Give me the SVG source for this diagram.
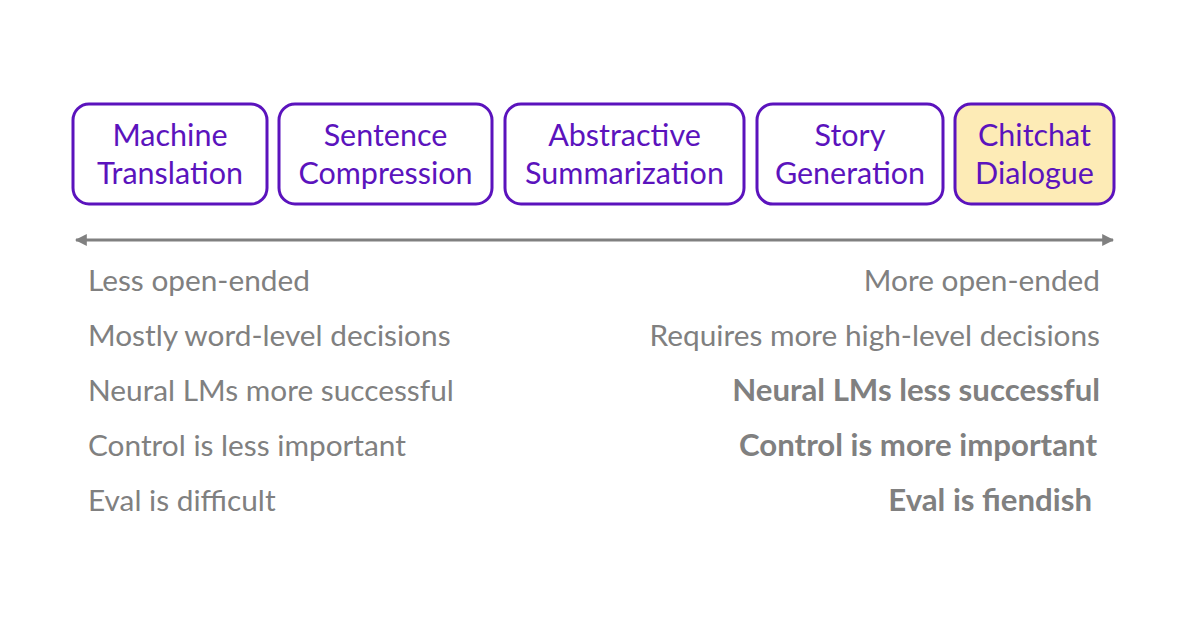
<svg xmlns="http://www.w3.org/2000/svg" width="1200" height="628" viewBox="0 0 1200 628">
<style>
.box{fill:#fff;stroke:#5b13bd;stroke-width:3}
.hl{fill:#fdebb6}
.bt{font-family:Lato,"Source Sans Pro","Noto Sans",sans-serif;font-size:30.5px;fill:#5b13bd;text-anchor:middle}
.t{font-family:Lato,"Source Sans Pro","Noto Sans",sans-serif;font-size:29.8px;fill:#808080}
.r{text-anchor:end}
.b{font-weight:bold;font-size:31.2px}
</style>
<defs>
<marker id="ah" viewBox="0 0 10 10" refX="9" refY="5" markerWidth="4" markerHeight="4" orient="auto-start-reverse" markerUnits="strokeWidth">
<path d="M0,0 L10,5 L0,10 z" fill="#808080"/>
</marker>
</defs>
<rect width="1200" height="628" fill="#fff"/>
<g id="n1"><rect class="box" x="73" y="104" width="194" height="100" rx="16"/><text class="bt" x="170" y="146">Machine</text><text class="bt" x="170" y="184">Translation</text></g>
<g id="n2"><rect class="box" x="279" y="104" width="213" height="100" rx="16"/><text class="bt" x="385.5" y="146">Sentence</text><text class="bt" x="385.5" y="184">Compression</text></g>
<g id="n3"><rect class="box" x="505" y="104" width="239" height="100" rx="16"/><text class="bt" x="624.5" y="146">Abstractive</text><text class="bt" x="624.5" y="184">Summarization</text></g>
<g id="n4"><rect class="box" x="757" y="104" width="186" height="100" rx="16"/><text class="bt" x="850" y="146">Story</text><text class="bt" x="850" y="184">Generation</text></g>
<g id="n5"><rect class="box hl" x="955" y="104" width="159" height="100" rx="16"/><text class="bt" x="1034.5" y="146">Chitchat</text><text class="bt" x="1034.5" y="184">Dialogue</text></g>
<g id="connectors"><line x1="76" y1="240" x2="1113" y2="240" stroke="#808080" stroke-width="3" marker-start="url(#ah)" marker-end="url(#ah)"/></g>
<g id="left">
<text class="t" x="88" y="291">Less open-ended</text>
<text class="t" x="88" y="346">Mostly word-level decisions</text>
<text class="t" x="88" y="401">Neural LMs more successful</text>
<text class="t" x="88" y="456">Control is less important</text>
<text class="t" x="88" y="511">Eval is difficult</text>
</g>
<g id="right">
<text class="t r" x="1100" y="291">More open-ended</text>
<text class="t r" x="1100" y="346">Requires more high-level decisions</text>
<text class="t r b" x="1100" y="401">Neural LMs less successful</text>
<text class="t r b" x="1097" y="456">Control is more important</text>
<text class="t r b" x="1092" y="511">Eval is fiendish</text>
</g>
</svg>
